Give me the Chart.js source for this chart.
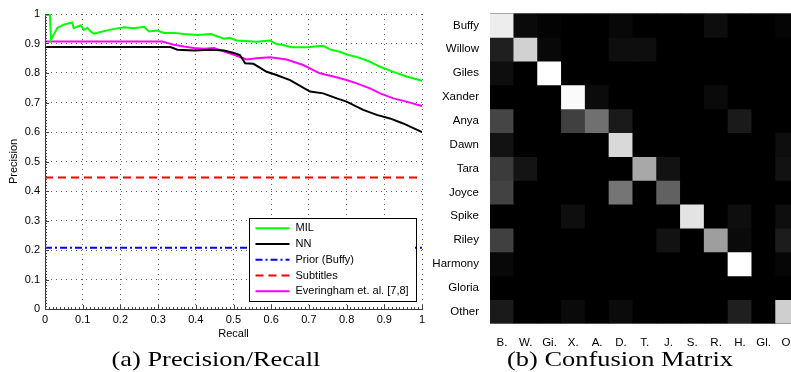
<!DOCTYPE html>
<html>
<head>
<meta charset="utf-8">
<script src="https://cdn.jsdelivr.net/npm/chart.js@4.4.1/dist/chart.umd.min.js"></script>
<style>
  html, body { margin: 0; padding: 0; background: #fff; }
  body { width: 791px; height: 372px; overflow: hidden; position: relative; }
  canvas { position: absolute; top: 0; }
  #prChart { left: 0; }
  #cmChart { left: 400px; }
  .caption {
    position: absolute; top: 348px; width: 400px;
    font-family: 'Liberation Serif', 'Times New Roman', serif;
    font-size: 22px; line-height: 22px; text-align: center;
    white-space: nowrap; color: #000;
    transform: scaleX(1.2); transform-origin: center;
  }
</style>
</head>
<body>
<canvas id="prChart" width="440" height="372"></canvas>
<canvas id="cmChart" width="412" height="372"></canvas>
<div class="caption" style="left:16px">(a) Precision/Recall</div>
<div class="caption" style="left:420px">(b) Confusion Matrix</div>
<script>
// precision / recall curves
const milRecall = [0, 0.013, 0.016, 0.033, 0.05, 0.072, 0.076, 0.095, 0.103, 0.112, 0.121, 0.13, 0.15, 0.174,
  0.21, 0.236, 0.263, 0.276, 0.298, 0.316, 0.342, 0.369, 0.404, 0.44, 0.475, 0.49, 0.508, 0.561, 0.597,
  0.614, 0.632, 0.654, 0.694, 0.738, 0.756, 0.782, 0.805, 0.831, 0.862, 0.889, 0.924, 0.959, 1.0];
const milPrecision = [0.997, 0.997, 0.913, 0.953, 0.964, 0.971, 0.952, 0.962, 0.946, 0.953, 0.941, 0.933, 0.94, 0.947,
  0.955, 0.952, 0.957, 0.941, 0.944, 0.936, 0.936, 0.932, 0.929, 0.932, 0.916, 0.919, 0.91, 0.906, 0.91,
  0.898, 0.895, 0.887, 0.887, 0.892, 0.88, 0.872, 0.861, 0.853, 0.838, 0.821, 0.804, 0.788, 0.774];

const nnRecall = [0, 0.333, 0.351, 0.395, 0.44, 0.475, 0.501, 0.517, 0.531, 0.553, 0.588, 0.614, 0.65,
  0.703, 0.738, 0.774, 0.8, 0.844, 0.88, 0.915, 0.95, 1.0];
const nnPrecision = [0.888, 0.888, 0.879, 0.876, 0.879, 0.876, 0.868, 0.861, 0.833, 0.831, 0.804, 0.793, 0.776,
  0.737, 0.731, 0.714, 0.703, 0.675, 0.658, 0.646, 0.629, 0.6];

const everRecall = [0, 0.311, 0.324, 0.342, 0.369, 0.395, 0.422, 0.448, 0.475, 0.501, 0.535, 0.561, 0.597,
  0.641, 0.685, 0.729, 0.765, 0.8, 0.827, 0.862, 0.889, 0.924, 0.959, 1.0];
const everPrecision = [0.907, 0.907, 0.902, 0.896, 0.89, 0.885, 0.882, 0.885, 0.873, 0.862, 0.846, 0.85, 0.853,
  0.846, 0.827, 0.799, 0.788, 0.776, 0.765, 0.748, 0.731, 0.714, 0.703, 0.688];

const priorPrecision = 0.208;
const subtitlePrecision = 0.446;

// confusion matrix (rows = true, columns = predicted), 0 = black, 1 = white
const rowNames = ['Buffy', 'Willow', 'Giles', 'Xander', 'Anya', 'Dawn', 'Tara', 'Joyce', 'Spike', 'Riley', 'Harmony', 'Gloria', 'Other'];
const colNames = ['B.', 'W.', 'Gi.', 'X.', 'A.', 'D.', 'T.', 'J.', 'S.', 'R.', 'H.', 'Gl.', 'O.'];
const confusion = [
  [0.93, 0.04, 0.01, 0, 0, 0.03, 0, 0, 0, 0.05, 0, 0, 0.02],
  [0.12, 0.82, 0.03, 0, 0, 0.055, 0.055, 0, 0, 0, 0, 0, 0],
  [0.055, 0, 1.0, 0, 0, 0, 0, 0, 0, 0, 0, 0, 0],
  [0, 0, 0, 0.98, 0.045, 0, 0, 0, 0, 0.04, 0, 0, 0],
  [0.27, 0, 0, 0.25, 0.44, 0.1, 0, 0, 0, 0, 0.1, 0, 0],
  [0.07, 0, 0, 0, 0, 0.85, 0, 0, 0, 0, 0, 0, 0.055],
  [0.23, 0.08, 0, 0, 0, 0, 0.66, 0.07, 0, 0, 0, 0, 0.07],
  [0.26, 0, 0, 0, 0, 0.46, 0, 0.38, 0, 0, 0, 0, 0],
  [0, 0, 0, 0.055, 0, 0, 0, 0, 0.89, 0, 0.055, 0, 0.055],
  [0.25, 0, 0, 0, 0, 0, 0, 0.07, 0, 0.62, 0.04, 0, 0.11],
  [0.03, 0, 0, 0, 0, 0, 0, 0, 0, 0, 1.0, 0, 0.025],
  [0, 0, 0, 0, 0, 0, 0, 0, 0, 0, 0, 0, 0],
  [0.1, 0, 0, 0.04, 0, 0.045, 0, 0, 0, 0, 0.12, 0, 0.81]
];

const sans = "'Liberation Sans', Arial, sans-serif";

function toPoints(xs, ys) {
  return xs.map((x, i) => ({ x: x, y: ys[i] }));
}

function gray(v) {
  const g = Math.round(v * 255);
  return 'rgb(' + g + ',' + g + ',' + g + ')';
}

// MATLAB prints 0 and 1, not 0.0 and 1.0
function tickLabel(v) {
  return String(Math.round(v * 10) / 10);
}

// small inward MATLAB-style ticks on the left and bottom axes
const axisTicks = {
  id: 'axisTicks',
  afterDatasetsDraw(chart) {
    const { ctx, chartArea: a, scales: { x, y } } = chart;
    ctx.save();
    ctx.strokeStyle = '#444';
    ctx.lineWidth = 1;
    ctx.beginPath();
    for (let i = 0; i <= 100; i++) {
      const len = i % 10 === 0 ? 4 : 2;
      const px = Math.round(x.getPixelForValue(i / 100)) + 0.5;
      ctx.moveTo(px, a.bottom);
      ctx.lineTo(px, a.bottom - len);
      const py = Math.round(y.getPixelForValue(i / 100)) + 0.5;
      ctx.moveTo(a.left, py);
      ctx.lineTo(a.left + len, py);
    }
    ctx.stroke();
    ctx.restore();
  }
};

// legend box sitting inside the plot, lower right
const legendBox = {
  id: 'legendBox',
  afterDraw(chart) {
    const { ctx, chartArea: a } = chart;
    const sets = chart.data.datasets;
    const rowH = 15.75;
    const right = a.right - 7, bottom = a.bottom - 7.5;
    const w = 166.5, h = rowH * sets.length + 4.5;
    const left = right - w, top = bottom - h;
    ctx.save();
    ctx.fillStyle = '#fff';
    ctx.fillRect(left, top, w, h);
    ctx.strokeStyle = '#000';
    ctx.lineWidth = 1;
    ctx.strokeRect(Math.round(left) + 0.5, Math.round(top) + 0.5, Math.round(w), Math.round(h));
    ctx.font = '11px ' + sans;
    ctx.textBaseline = 'middle';
    sets.forEach((ds, i) => {
      const yy = top + 10 + i * rowH;
      ctx.strokeStyle = ds.borderColor;
      ctx.lineWidth = ds.borderWidth;
      ctx.setLineDash(ds.borderDash || []);
      ctx.beginPath();
      ctx.moveTo(left + 7, yy);
      ctx.lineTo(left + 41, yy);
      ctx.stroke();
      ctx.setLineDash([]);
      ctx.fillStyle = '#000';
      ctx.fillText(ds.label, left + 47, yy);
    });
    ctx.restore();
  }
};

new Chart(document.getElementById('prChart'), {
  type: 'line',
  data: {
    datasets: [
      { label: 'MIL', data: toPoints(milRecall, milPrecision), borderColor: '#00ff00', borderWidth: 2 },
      { label: 'NN', data: toPoints(nnRecall, nnPrecision), borderColor: '#000000', borderWidth: 2 },
      { label: 'Prior (Buffy)', data: toPoints([0, 1], [priorPrecision, priorPrecision]),
        borderColor: '#0000ff', borderWidth: 2, borderDash: [7, 3, 2, 3] },
      { label: 'Subtitles', data: toPoints([0, 1], [subtitlePrecision, subtitlePrecision]),
        borderColor: '#ff0000', borderWidth: 2, borderDash: [8, 5] },
      { label: 'Everingham et. al. [7,8]', data: toPoints(everRecall, everPrecision), borderColor: '#ff00ff', borderWidth: 2 }
    ]
  },
  options: {
    responsive: false,
    animation: false,
    layout: { padding: { top: 14, right: 18, bottom: 0, left: 0 } },
    elements: { point: { radius: 0 }, line: { tension: 0 } },
    plugins: { legend: { display: false }, tooltip: { enabled: false } },
    scales: {
      x: {
        type: 'linear', min: 0, max: 1,
        ticks: { stepSize: 0.1, padding: 4, color: '#000', font: { family: sans, size: 11 }, callback: tickLabel },
        grid: { color: 'rgba(0,0,0,0.6)', drawTicks: false },
        border: { display: true, color: '#333', dash: [1, 4] },
        title: { display: true, text: 'Recall', color: '#000', font: { family: sans, size: 11 }, padding: { top: 0, bottom: 31.5 } },
        afterFit: s => { s.height = 63; }
      },
      y: {
        type: 'linear', min: 0, max: 1,
        ticks: { stepSize: 0.1, padding: 5, color: '#000', font: { family: sans, size: 11 }, callback: tickLabel },
        grid: { color: 'rgba(0,0,0,0.6)', drawTicks: false },
        border: { display: true, color: '#333', dash: [1, 4] },
        title: { display: true, text: 'Precision', color: '#000', font: { family: sans, size: 11 }, padding: { top: 7.5, bottom: 0 } },
        afterFit: s => { s.width = 45; }
      }
    }
  },
  plugins: [axisTicks, legendBox]
});

// black background so neighbouring cells leave no seams
const blackArea = {
  id: 'blackArea',
  beforeDatasetsDraw(chart) {
    const { ctx, chartArea: a } = chart;
    ctx.save();
    ctx.fillStyle = '#000';
    ctx.fillRect(a.left, a.top, a.right - a.left, a.bottom - a.top);
    ctx.restore();
  }
};

new Chart(document.getElementById('cmChart'), {
  type: 'bar',
  data: {
    labels: colNames,
    datasets: rowNames.map((name, i) => ({
      label: name,
      data: colNames.map(() => [i, i + 1]),
      backgroundColor: confusion[i].map(gray),
      borderWidth: 0,
      barPercentage: 1,
      categoryPercentage: 1,
      grouped: false
    }))
  },
  options: {
    responsive: false,
    animation: false,
    layout: { padding: { top: 13.5, right: 12.6, bottom: 0, left: 0 } },
    plugins: { legend: { display: false }, tooltip: { enabled: false } },
    scales: {
      x: {
        grid: { display: false },
        border: { display: false },
        ticks: { padding: 4, color: '#000', font: { family: sans, size: 11.5 } },
        afterFit: s => { s.height = 48.5; }
      },
      y: {
        type: 'linear', min: 0, max: 13, reverse: true,
        grid: { display: false },
        border: { display: false },
        afterBuildTicks: axis => { axis.ticks = rowNames.map((n, i) => ({ value: i + 0.5 })); },
        ticks: { padding: 3, color: '#000', font: { family: sans, size: 11.5 },
          callback: v => rowNames[Math.floor(v)] },
        afterFit: s => { s.width = 90; }
      }
    }
  },
  plugins: [blackArea]
});
</script>
</body>
</html>
